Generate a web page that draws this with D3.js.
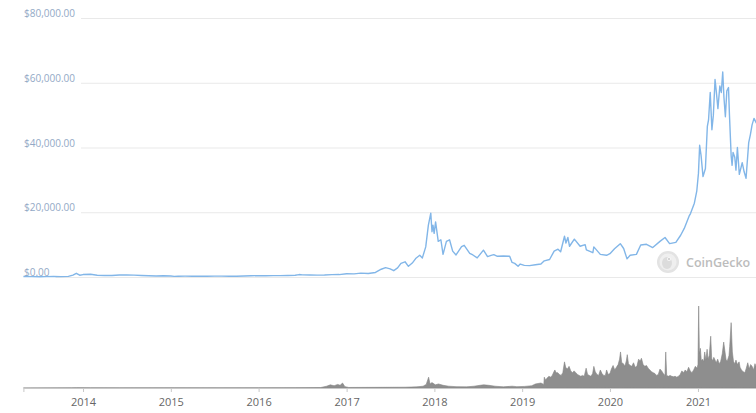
<!DOCTYPE html>
<html>
<head>
<meta charset="utf-8">
<script src="https://cdn.jsdelivr.net/npm/d3@7"></script>
<style>
  html, body { margin: 0; padding: 0; background: #fff; }
  svg { display: block; font-family: "Open Sans", sans-serif; }
</style>
</head>
<body>
<svg id="chart" width="756" height="413"></svg>
<script>
// ---- data ----
const priceTicks = [0, 20000, 40000, 60000, 80000];
const yearTicks = ["2014","2015","2016","2017","2018","2019","2020","2021"];

const priceDates = [
"2013-04-28","2013-06-01","2013-07-05","2013-08-01","2013-09-01","2013-10-01","2013-11-01","2013-11-20","2013-12-04","2013-12-18","2014-01-01",
"2014-02-01","2014-03-01","2014-04-01","2014-05-01","2014-06-01","2014-07-01","2014-08-01","2014-09-01","2014-10-01","2014-11-01","2014-12-01",
"2015-01-01","2015-01-15","2015-02-01","2015-03-01","2015-04-01","2015-05-01","2015-06-01","2015-07-01","2015-08-01","2015-09-01","2015-10-01","2015-11-01","2015-12-01",
"2016-01-01","2016-02-01","2016-03-01","2016-04-01","2016-05-01","2016-06-01","2016-06-18","2016-07-01","2016-08-01","2016-09-01","2016-10-01","2016-11-01","2016-12-01",
"2017-01-01","2017-02-01","2017-03-01","2017-04-01","2017-05-01","2017-05-25","2017-06-12","2017-07-01","2017-07-16","2017-08-01","2017-08-15","2017-09-01","2017-09-15","2017-10-01","2017-10-15","2017-11-01","2017-11-12","2017-11-26","2017-12-07","2017-12-17","2017-12-22","2017-12-26","2017-12-31",
"2018-01-06","2018-01-17","2018-01-28","2018-02-06","2018-02-20","2018-03-05","2018-03-18","2018-04-01","2018-04-24","2018-05-05","2018-05-28","2018-06-10","2018-06-28","2018-07-24","2018-08-10","2018-08-25","2018-09-05","2018-09-20","2018-10-15","2018-11-10","2018-11-20","2018-12-01","2018-12-15","2018-12-24",
"2019-01-10","2019-02-01","2019-02-25","2019-03-20","2019-04-03","2019-04-25","2019-05-14","2019-05-30","2019-06-10","2019-06-26","2019-07-02","2019-07-10","2019-07-17","2019-08-06","2019-08-30","2019-09-20","2019-09-25","2019-10-22","2019-10-26","2019-11-22","2019-12-18",
"2020-01-01","2020-01-20","2020-02-13","2020-02-27","2020-03-12","2020-03-25","2020-04-20","2020-05-08","2020-06-01","2020-06-27","2020-07-27","2020-08-17","2020-09-05","2020-10-01","2020-10-21","2020-11-05","2020-11-25","2020-12-01","2020-12-17","2020-12-27",
"2021-01-03","2021-01-08","2021-01-14","2021-01-22","2021-02-01","2021-02-09","2021-02-14","2021-02-21","2021-02-28","2021-03-06","2021-03-13","2021-03-18","2021-03-25","2021-04-02","2021-04-08","2021-04-14","2021-04-19","2021-04-25","2021-05-01","2021-05-08","2021-05-12","2021-05-19","2021-05-23","2021-05-27","2021-06-03","2021-06-08","2021-06-14","2021-06-22","2021-07-04","2021-07-12","2021-07-20","2021-07-31","2021-08-07","2021-08-14","2021-08-22","2021-09-01"
];
const priceValues = [
135,120,80,105,140,125,200,600,1150,550,750,
830,560,470,450,630,640,590,480,390,330,380,
315,200,230,260,245,235,225,260,280,230,240,315,380,
430,375,435,415,450,535,750,670,620,575,610,730,750,
1000,980,1200,1080,1400,2400,2900,2500,1950,2800,4200,4700,3300,4300,5700,6700,5900,9300,16000,19700,14000,16000,13500,
17000,11000,11500,7000,11000,11500,8000,6800,9400,9800,7300,6800,5900,8300,6300,6700,6900,6400,6500,6400,4500,4200,3300,4000,
3600,3500,3800,4000,5000,5400,8000,8600,7800,12600,10500,12200,9500,11700,9500,10000,8400,7500,9300,7000,6700,
7200,8700,10300,8800,5600,6700,7000,9900,10100,9100,11000,12200,10300,10700,12900,15000,18800,19600,22800,26500,
32000,40700,37500,31000,33500,46500,48500,57000,45500,50000,61000,57500,52000,59000,57000,63300,55500,49500,57500,58500,50000,37500,34500,38500,37000,33000,40000,31700,35300,32500,30500,41500,44000,47000,49000,47500
];

const volumeDates = [
"2013-04-28","2013-11-15","2013-12-05","2014-02-01","2014-06-01","2015-01-15","2015-06-01","2016-01-01","2016-06-01","2016-09-15",
"2016-10-10","2016-10-25","2016-11-10","2016-11-25","2016-12-05","2016-12-15","2016-12-25","2017-01-10","2017-06-01","2017-09-01",
"2017-10-20","2017-11-15","2017-11-28","2017-12-08","2017-12-14","2017-12-22","2018-01-05","2018-01-18","2018-02-06","2018-03-01",
"2018-04-01","2018-05-15","2018-06-15","2018-07-10","2018-07-25","2018-08-15","2018-09-10","2018-10-15","2018-11-20","2018-12-10",
"2019-01-10","2019-02-10","2019-02-25","2019-03-20","2019-04-01",
"2019-04-03","2019-04-08","2019-04-15","2019-04-22","2019-04-29","2019-05-06","2019-05-13","2019-05-17","2019-05-22","2019-05-29","2019-06-05","2019-06-12","2019-06-19","2019-06-26","2019-07-01","2019-07-08","2019-07-15","2019-07-22","2019-07-29","2019-08-05","2019-08-12","2019-08-19","2019-08-26","2019-09-02","2019-09-09","2019-09-16","2019-09-24","2019-09-30","2019-10-07","2019-10-14","2019-10-21","2019-10-26","2019-11-01","2019-11-08","2019-11-15","2019-11-22","2019-11-29","2019-12-06","2019-12-13","2019-12-18","2019-12-25",
"2020-01-01","2020-01-07","2020-01-14","2020-01-21","2020-01-28","2020-02-04","2020-02-10","2020-02-14","2020-02-19","2020-02-26","2020-03-03","2020-03-09","2020-03-13","2020-03-18","2020-03-25","2020-04-01","2020-04-08","2020-04-15","2020-04-22","2020-04-29","2020-05-06","2020-05-11","2020-05-18","2020-05-25","2020-06-01","2020-06-08","2020-06-15","2020-06-22","2020-06-29","2020-07-06","2020-07-13","2020-07-20","2020-07-27","2020-08-03","2020-08-10","2020-08-17","2020-08-20","2020-08-24","2020-08-31","2020-09-07","2020-09-14","2020-09-21","2020-09-28","2020-10-05","2020-10-12","2020-10-19","2020-10-26","2020-11-02","2020-11-09","2020-11-16","2020-11-23","2020-11-30","2020-12-07","2020-12-14","2020-12-21","2020-12-28",
"2021-01-01","2021-01-04","2021-01-07","2021-01-11","2021-01-15","2021-01-20","2021-01-25","2021-01-29","2021-02-03","2021-02-08","2021-02-12","2021-02-17","2021-02-23","2021-02-27","2021-03-03","2021-03-08","2021-03-13","2021-03-18","2021-03-24","2021-03-30","2021-04-05","2021-04-12","2021-04-18","2021-04-23","2021-04-28","2021-05-03","2021-05-10","2021-05-13","2021-05-19","2021-05-24","2021-05-29","2021-06-03","2021-06-08","2021-06-14","2021-06-21","2021-06-25","2021-07-01","2021-07-08","2021-07-15","2021-07-21","2021-07-27","2021-08-02","2021-08-08","2021-08-14","2021-08-20","2021-08-26","2021-09-01"
];
const volumeValues = [
0.1,0.3,0.8,0.4,0.3,0.5,0.4,0.5,0.8,1.0,
4,7,5,8,6,11,3,1.2,1.5,1.8,
2.5,4,8,24,9,12,7,9,6,4,
3,2.5,4,6,7,6,4,2.5,4,3,
3.5,5,9,11,8,
24,18,22,26,24,28,36,40,34,34,30,28,34,58,46,42,48,38,34,38,34,30,28,26,28,26,44,30,28,26,32,48,36,30,28,40,32,28,28,40,30,
32,42,50,40,46,52,64,80,56,54,48,60,74,54,50,48,56,46,48,64,60,66,52,48,50,44,40,36,34,32,28,30,42,38,32,28,80,28,26,28,26,25,26,24,26,30,38,34,40,36,46,38,34,40,48,44,
52,182,76,88,60,64,58,80,62,86,64,72,115,66,60,68,62,56,64,54,58,76,102,82,62,60,72,92,145,80,58,54,62,52,58,46,40,36,34,44,56,42,52,48,40,54,46
];

// ---- build ----
const parse = d3.timeParse("%Y-%m-%d");
const price = priceDates.map((d, i) => ({ date: parse(d), value: priceValues[i] }));
const volume = volumeDates.map((d, i) => ({ date: parse(d), value: volumeValues[i] }));

const svg = d3.select("#chart");
const W = 756;

const x = d3.scaleTime()
  .domain([parse("2013-04-28"), parse("2021-09-01")])
  .range([23.4, 756.4]);
const y = d3.scaleLinear().domain([0, 80000]).range([277, 18]);
const yv = d3.scaleLinear().domain([0, 182]).range([388, 306]);

// gridlines + labels
const fmt = v => "$" + d3.format(",.2f")(v);
const grid = svg.append("g");
priceTicks.forEach(t => {
  const g = grid.append("g");
  const txt = g.append("text")
    .attr("x", 24).attr("y", y(t) - 1)
    .attr("font-size", 10)
    .attr("fill", "#93a9c6")
    .text(fmt(t));
  const w = txt.node().getComputedTextLength();
  g.insert("line", "text")
    .attr("x1", 24 + w + 6).attr("x2", W)
    .attr("y1", y(t) + 0.5).attr("y2", y(t) + 0.5)
    .attr("stroke", "#e9e9e9").attr("stroke-width", 1);
});

// watermark
const wm = svg.append("g").attr("transform", "translate(668,262)");
wm.append("circle").attr("r", 11).attr("fill", "#e3e3e3");
wm.append("circle").attr("r", 8.5).attr("fill", "#efefef");
wm.append("ellipse").attr("cx", -1).attr("cy", 1).attr("rx", 5).attr("ry", 6).attr("fill", "#dcdcdc");
wm.append("circle").attr("cx", 1).attr("cy", -3).attr("r", 2).attr("fill", "#f7f7f7");
wm.append("circle").attr("cx", 1).attr("cy", -3).attr("r", 1).attr("fill", "#c8c8c8");
svg.append("text")
  .attr("x", 686).attr("y", 267)
  .attr("font-size", 12.5)
  .attr("font-weight", 600)
  .attr("fill", "#bcbcbc")
  .text("CoinGecko");

// price line
svg.append("path")
  .datum(price)
  .attr("fill", "none")
  .attr("stroke", "#82b6e8")
  .attr("stroke-width", 1.4)
  .attr("stroke-linejoin", "round")
  .attr("d", d3.line().x(d => x(d.date)).y(d => y(d.value)));

// volume area
svg.append("path")
  .datum(volume)
  .attr("fill", "#8e8e8e")
  .attr("stroke", "#858585")
  .attr("stroke-width", 0.6)
  .attr("d", d3.area().x(d => x(d.date)).y0(yv(0)).y1(d => yv(d.value)));

// x axis
const xAxis = d3.axisBottom(x)
  .tickValues(yearTicks.map(s => parse(s + "-01-01")))
  .tickFormat(d3.timeFormat("%Y"))
  .tickSizeOuter(0)
  .tickSize(4)
  .tickPadding(6);
const ax = svg.append("g").attr("transform", "translate(0,388)").call(xAxis);
ax.select(".domain").attr("stroke", "#c8c8c8");
ax.selectAll(".tick line").attr("stroke", "#c8c8c8");
ax.selectAll(".tick text")
  .attr("fill", "#666")
  .attr("font-size", 11)
  .attr("font-family", "'Open Sans', sans-serif");
</script>
</body>
</html>
